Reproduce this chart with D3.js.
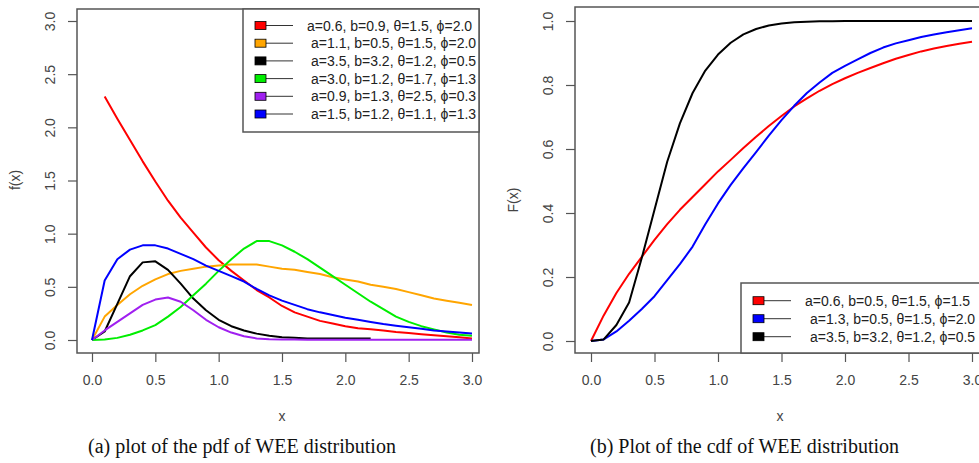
<!DOCTYPE html><meta charset="utf-8">
<html>
<head>
<title>WEE distribution pdf and cdf</title>
<script src="https://cdn.jsdelivr.net/npm/d3@7/dist/d3.min.js"></script>
<style>
  body { margin: 0; background: #fff; }
  text { font-family: "Liberation Sans", Arial, sans-serif; }
  .cap { font-family: "Liberation Serif", "Times New Roman", serif; font-size: 20px; fill: #111; }
</style>
</head>
<body>
<svg id="viz"></svg>
<script>
// x grid the curves were evaluated on
var xGrid = [0.0,0.1,0.2,0.3,0.4,0.5,0.6,0.7,0.8,0.9,1.0,1.1,1.2,1.3,1.4,1.5,1.6,1.7,1.8,1.9,2.0,2.1,2.2,2.3,2.4,2.5,2.6,2.7,2.8,2.9,3.0];
var xGridRed = xGrid.slice(1);      // pdf red starts at 0.1
var xGridBlack = xGrid.slice(0, 23); // pdf black stops at 2.2

// (a) pdf values
var pdfRed    = [2.29,2.08,1.88,1.68,1.49,1.31,1.15,1.01,0.87,0.75,0.65,0.56,0.47,0.40,0.32,0.26,0.22,0.18,0.155,0.13,0.11,0.10,0.09,0.075,0.065,0.055,0.045,0.035,0.025,0.015];
var pdfOrange = [0,0.22,0.33,0.43,0.51,0.57,0.62,0.65,0.67,0.69,0.70,0.71,0.71,0.71,0.69,0.67,0.66,0.64,0.62,0.59,0.57,0.55,0.52,0.50,0.48,0.45,0.42,0.39,0.37,0.35,0.33];
var pdfBlack  = [0,0.08,0.34,0.60,0.73,0.74,0.66,0.53,0.39,0.28,0.19,0.13,0.09,0.06,0.04,0.025,0.02,0.015,0.015,0.015,0.015,0.015,0.015];
var pdfGreen  = [0,0.005,0.02,0.05,0.09,0.14,0.22,0.31,0.42,0.53,0.65,0.76,0.86,0.93,0.93,0.89,0.83,0.76,0.68,0.60,0.52,0.44,0.36,0.29,0.22,0.17,0.13,0.10,0.07,0.05,0.04];
var pdfPurple = [0,0.09,0.17,0.25,0.33,0.38,0.40,0.36,0.28,0.19,0.12,0.07,0.035,0.015,0.008,0.005,0.004,0.003,0.003,0.003,0.003,0.003,0.003,0.003,0.003,0.003,0.003,0.003,0.003,0.003,0.003];
var pdfBlue   = [0,0.56,0.76,0.85,0.89,0.89,0.86,0.81,0.76,0.70,0.65,0.60,0.55,0.48,0.42,0.37,0.33,0.29,0.26,0.235,0.21,0.19,0.17,0.15,0.135,0.12,0.105,0.09,0.08,0.07,0.06];

// (b) cdf values
var cdfRed   = [0,0.08,0.15,0.21,0.263,0.316,0.365,0.41,0.45,0.49,0.53,0.566,0.603,0.638,0.672,0.703,0.733,0.758,0.782,0.803,0.821,0.838,0.853,0.868,0.882,0.894,0.905,0.914,0.922,0.929,0.935];
var cdfBlue  = [0,0.005,0.03,0.063,0.10,0.14,0.19,0.24,0.295,0.365,0.43,0.488,0.54,0.59,0.642,0.69,0.735,0.775,0.808,0.838,0.86,0.88,0.90,0.917,0.93,0.94,0.95,0.958,0.965,0.971,0.977];
var cdfBlack = [0,0.005,0.05,0.12,0.26,0.41,0.56,0.68,0.775,0.845,0.895,0.932,0.958,0.975,0.986,0.992,0.996,0.998,0.999,0.999,1,1,1,1,1,1,1,1,1,1,1];

var pdfLabels = ["a=0.6, b=0.9, θ=1.5, ϕ=2.0","a=1.1, b=0.5, θ=1.5, ϕ=2.0","a=3.5, b=3.2, θ=1.2, ϕ=0.5",
                 "a=3.0, b=1.2, θ=1.7, ϕ=1.3","a=0.9, b=1.3, θ=2.5, ϕ=0.3","a=1.5, b=1.2, θ=1.1, ϕ=1.3"];
var pdfColors = ["#ff0000","#ffa500","#000000","#00ee00","#a020f0","#0000ff"];
var cdfLabels = ["a=0.6, b=0.5, θ=1.5, ϕ=1.5","a=1.3, b=0.5, θ=1.5, ϕ=2.0","a=3.5, b=3.2, θ=1.2, ϕ=0.5"];
var cdfColors = ["#ff0000","#0000ff","#000000"];

var xTicks = [0,0.5,1,1.5,2,2.5,3];
var pdfTicks = [0,0.5,1,1.5,2,2.5,3];
var cdfTicks = [0,0.2,0.4,0.6,0.8,1];

var width = 979, height = 463;
var svg = d3.select("#viz").attr("width", width).attr("height", height);

function panel(opt) {
    var g = svg.append("g");
    var x = d3.scaleLinear().domain([0, 3]).range(opt.xr);
    var y = d3.scaleLinear().domain(opt.yd).range(opt.yr);

    // curves
    var line = d3.line().x(function(d) { return x(d[0]); }).y(function(d) { return y(d[1]); });
    opt.series.forEach(function(s) {
        g.append("path")
            .datum(d3.zip(s.xs, s.ys))
            .attr("d", line)
            .attr("fill", "none")
            .attr("stroke", s.color)
            .attr("stroke-width", 2)
            .attr("stroke-linejoin", "round");
    });

    // x axis, R style
    var xa = g.append("g").attr("transform", "translate(0," + opt.box[3] + ")")
        .call(d3.axisBottom(x).tickValues(xTicks).tickFormat(d3.format(".1f")).tickSizeOuter(0).tickSizeInner(9).tickPadding(13));
    // y axis
    var ya = g.append("g").attr("transform", "translate(" + opt.box[0] + ",0)")
        .call(d3.axisLeft(y).tickValues(opt.yTicks).tickFormat(d3.format(".1f")).tickSizeOuter(0).tickSizeInner(9).tickPadding(4));
    [xa, ya].forEach(function(a) {
        a.select(".domain").remove();
        a.selectAll("line").attr("stroke", "#555").attr("stroke-width", 1.2);
        a.selectAll("text").attr("fill", "#444").style("font-size", "14px");
    });
    // rotated y labels like R's default las=0
    ya.selectAll("text")
        .attr("text-anchor", "middle")
        .attr("dy", null)
        .attr("x", 0).attr("y", 0)
        .attr("transform", "translate(-22,0) rotate(-90)");

    // box
    g.append("rect")
        .attr("x", opt.box[0]).attr("y", opt.box[1])
        .attr("width", opt.box[2] - opt.box[0]).attr("height", opt.box[3] - opt.box[1])
        .attr("fill", "none").attr("stroke", "#555").attr("stroke-width", 1.5);

    // legend
    var lg = opt.legend;
    g.append("rect")
        .attr("x", lg.x).attr("y", lg.y).attr("width", lg.w).attr("height", lg.h)
        .attr("fill", "#fff").attr("stroke", "#555").attr("stroke-width", 1.5);
    lg.labels.forEach(function(lab, i) {
        var cy = lg.y0 + i * lg.dy;
        g.append("line").attr("x1", lg.x + 18).attr("x2", lg.x + 50)
            .attr("y1", cy).attr("y2", cy).attr("stroke", "#333").attr("stroke-width", 1);
        g.append("rect").attr("x", lg.x + 12).attr("y", cy - 4).attr("width", 11).attr("height", 8)
            .attr("fill", lg.colors[i]).attr("stroke", "#000").attr("stroke-width", 0.8);
        g.append("text").attr("x", lg.x + (i == 0 ? lg.tx0 : lg.tx)).attr("y", cy + 5)
            .attr("fill", "#222").style("font-size", "14px").text(lab);
    });

    // labels
    g.append("text").attr("x", opt.xlab[0]).attr("y", opt.xlab[1])
        .attr("text-anchor", "middle").attr("fill", "#444").style("font-size", "14px").text("x");
    g.append("text").attr("transform", "translate(" + opt.ylab[0] + "," + opt.ylab[1] + ") rotate(-90)")
        .attr("text-anchor", "middle").attr("fill", "#444").style("font-size", "14px").text(opt.ylab[2]);
    g.append("text").attr("class", "cap").attr("x", opt.cap[0]).attr("y", opt.cap[1]).text(opt.cap[2]);
}

panel({
    xr: [92, 472], yd: [0, 3], yr: [340, 21], yTicks: pdfTicks,
    box: [77, 9, 479, 353],
    series: [
        {xs: xGridRed, ys: pdfRed, color: pdfColors[0]},
        {xs: xGrid, ys: pdfOrange, color: pdfColors[1]},
        {xs: xGridBlack, ys: pdfBlack, color: pdfColors[2]},
        {xs: xGrid, ys: pdfGreen, color: pdfColors[3]},
        {xs: xGrid, ys: pdfPurple, color: pdfColors[4]},
        {xs: xGrid, ys: pdfBlue, color: pdfColors[5]}
    ],
    legend: {x: 243, y: 9, w: 236, h: 123, y0: 25.5, dy: 17.7, tx0: 64, tx: 68, labels: pdfLabels, colors: pdfColors},
    xlab: [282, 421], ylab: [20, 180, "f(x)"],
    cap: [88, 453, "(a) plot of the pdf of WEE distribution"]
});

panel({
    xr: [591, 972], yd: [0, 1], yr: [341, 21], yTicks: cdfTicks,
    box: [575, 7, 995, 353],
    series: [
        {xs: xGrid, ys: cdfRed, color: cdfColors[0]},
        {xs: xGrid, ys: cdfBlue, color: cdfColors[1]},
        {xs: xGrid, ys: cdfBlack, color: cdfColors[2]}
    ],
    legend: {x: 741, y: 283, w: 260, h: 70, y0: 300.7, dy: 18, tx0: 64, tx: 69, labels: cdfLabels, colors: cdfColors},
    xlab: [780, 421], ylab: [518, 200, "F(x)"],
    cap: [590, 453, "(b) Plot of the cdf of WEE distribution"]
});
</script>
</body>
</html>
